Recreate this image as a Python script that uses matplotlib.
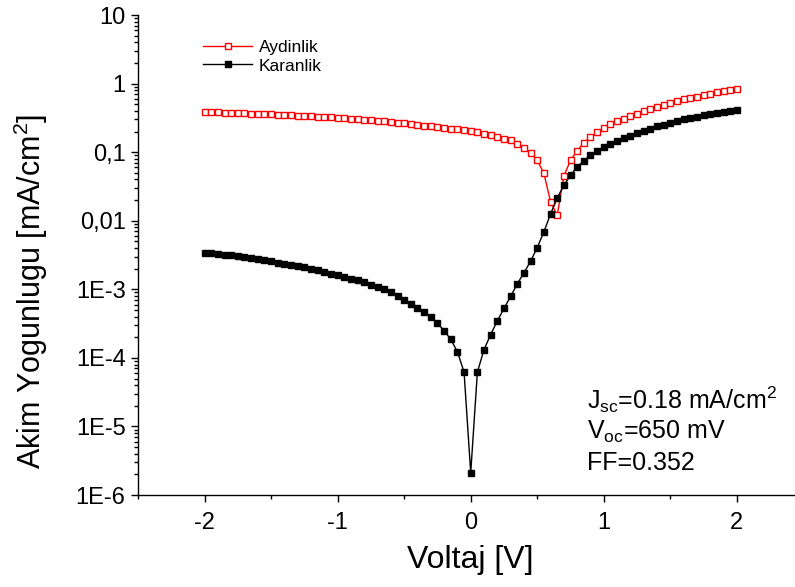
import numpy as np
import matplotlib.pyplot as plt
from matplotlib.ticker import FixedLocator, LogLocator, MultipleLocator, NullFormatter

plt.rcParams['font.family'] = ['Liberation Sans', 'DejaVu Sans']
plt.rcParams['mathtext.fontset'] = 'custom'
plt.rcParams['mathtext.rm'] = 'Liberation Sans'
plt.rcParams['mathtext.it'] = 'Liberation Sans'
plt.rcParams['axes.unicode_minus'] = False

# voltage sweep, -2 V to 2 V in 0.05 V steps
voltaj = np.round(np.linspace(-2, 2, 81), 2)

# current density under illumination [mA/cm2]
aydinlik = [
    0.384, 0.382, 0.380, 0.378, 0.376, 0.373, 0.370, 0.366, 0.363, 0.360,
    0.356, 0.353, 0.349, 0.345, 0.341, 0.337, 0.333, 0.330, 0.325, 0.321,
    0.316, 0.311, 0.307, 0.302, 0.297, 0.292, 0.286, 0.281, 0.275, 0.269,
    0.263, 0.256, 0.250, 0.244, 0.238, 0.232, 0.226, 0.221, 0.216, 0.210,
    0.204,
    0.195, 0.186, 0.178, 0.166, 0.158, 0.148, 0.132, 0.115, 0.098, 0.076,
    0.049, 0.019, 0.012, 0.045, 0.076, 0.105, 0.138, 0.166, 0.195, 0.224,
    0.257, 0.282, 0.309, 0.339, 0.363, 0.398, 0.427, 0.457, 0.490, 0.525,
    0.550, 0.589, 0.617, 0.646, 0.676, 0.708, 0.759, 0.776, 0.813, 0.839,
]

# dark current density [mA/cm2]
karanlik = [
    3.39e-3, 3.33e-3, 3.26e-3, 3.19e-3, 3.12e-3, 3.04e-3, 2.95e-3, 2.85e-3, 2.75e-3, 2.65e-3,
    2.55e-3, 2.45e-3, 2.36e-3, 2.26e-3, 2.17e-3, 2.08e-3, 1.99e-3, 1.89e-3, 1.79e-3, 1.70e-3,
    1.61e-3, 1.52e-3, 1.43e-3, 1.35e-3, 1.26e-3, 1.17e-3, 1.08e-3, 1.00e-3, 9.1e-4, 8.1e-4,
    7.1e-4, 6.2e-4, 5.4e-4, 4.7e-4, 3.9e-4, 3.2e-4, 2.5e-4, 1.86e-4, 1.23e-4, 6.2e-5,
    2.1e-6,
    6.2e-5, 1.32e-4, 2.19e-4, 3.47e-4, 5.25e-4, 7.9e-4, 1.20e-3, 1.74e-3, 2.57e-3, 4.07e-3,
    6.9e-3, 1.26e-2, 2.14e-2, 3.31e-2, 4.57e-2, 6.17e-2, 7.41e-2, 9.12e-2, 0.105, 0.117,
    0.130, 0.145, 0.159, 0.175, 0.190, 0.205, 0.221, 0.237, 0.253, 0.269,
    0.284, 0.300, 0.315, 0.331, 0.347, 0.361, 0.376, 0.391, 0.405, 0.419,
]

y_ticks = [1e-6, 1e-5, 1e-4, 1e-3, 1e-2, 1e-1, 1, 10]
y_tick_labels = ['1E-6', '1E-5', '1E-4', '1E-3', '0,01', '0,1', '1', '10']

# cell parameters written in the lower right corner
parametreler = ['J$_{sc}$=0.18 mA/cm$^2$', 'V$_{oc}$=650 mV', 'FF=0.352']

fig = plt.figure(figsize=(7.95, 5.87), dpi=100)
ax = fig.add_axes([0.1736, 0.1567, 0.837, 0.8177])

ax.plot(voltaj, aydinlik, color='red', lw=1, marker='s', ms=5,
        mfc='white', mec='red', mew=1, label='Aydinlik')
ax.plot(voltaj, karanlik, color='black', lw=1, marker='s', ms=5,
        mfc='black', mec='black', label='Karanlik')

ax.set_yscale('log')
ax.set_xlim(-2.5, 2.5)
ax.set_ylim(1e-6, 10)

ax.yaxis.set_major_locator(FixedLocator(y_ticks))
ax.set_yticklabels(y_tick_labels)
ax.yaxis.set_minor_locator(LogLocator(base=10, subs=np.arange(2, 10), numticks=100))
ax.yaxis.set_minor_formatter(NullFormatter())
ax.xaxis.set_major_locator(MultipleLocator(1))
ax.xaxis.set_minor_locator(MultipleLocator(0.5))

ax.tick_params(axis='both', which='major', direction='out', length=5, width=1,
               labelsize=17)
ax.tick_params(axis='both', which='minor', direction='out', length=3, width=1)
ax.tick_params(axis='x', pad=7)
ax.tick_params(axis='y', pad=4)

for side in ['top', 'right']:
    ax.spines[side].set_visible(False)
for side in ['left', 'bottom']:
    ax.spines[side].set_linewidth(1)

ax.set_xlabel('Voltaj [V]', fontsize=23)
ax.xaxis.set_label_coords(0.5, -0.104)
ax.set_ylabel('Akim Yogunlugu [mA/cm$^2$]', fontsize=22)
ax.yaxis.set_label_coords(-0.132, 0.425)

for i, satir in enumerate(parametreler):
    fig.text(0.738, 0.3186 - i * 0.0537, satir, fontsize=18,
             va='center', ha='left')

ax.legend(loc='upper left', bbox_to_anchor=(0.245, 0.947),
          bbox_transform=fig.transFigure, frameon=False, fontsize=12.5,
          handlelength=2.8, handletextpad=0.4, labelspacing=0.2,
          borderpad=0)

fig.savefig('out.png', dpi=100)
